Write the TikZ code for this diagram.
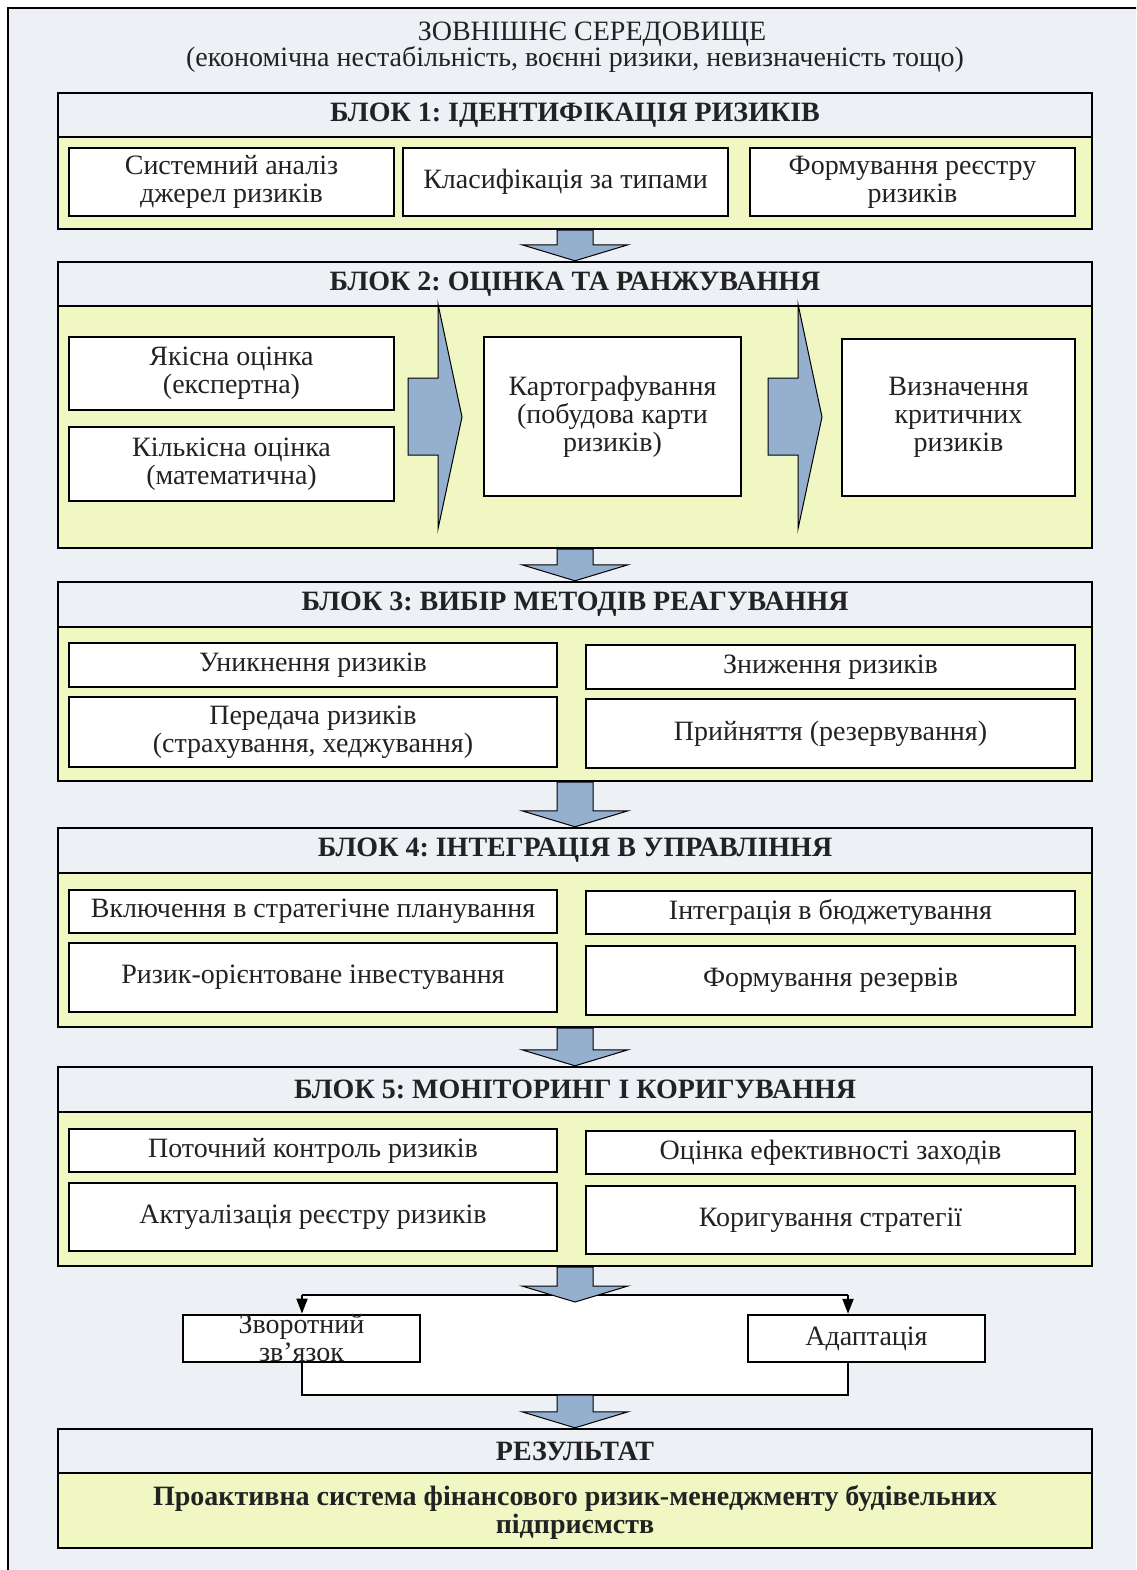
\documentclass[tikz,border=0pt]{standalone}
\usepackage{fontspec}
\setmainfont{Liberation Serif}
\usetikzlibrary{calc,arrows.meta}
\definecolor{bgc}{HTML}{EDF0F5}
\definecolor{yel}{HTML}{F0F7C3}
\definecolor{blu}{HTML}{95AFCF}
\definecolor{ink}{HTML}{222222}
\frenchspacing
\newcommand\bx[7][box]{\node[#1, minimum width={#5-#3}, minimum height={#6-#4}] (#2) at ({(#3+#5)/2},{(#4+#6)/2}) {#7};}
\newcommand\blk[5]{%
  \node[bodybox, minimum width=1034, minimum height={#4-#3}] (b#1) at (575,{(#3+#4)/2}) {};
  \node[hdr, minimum width=1034, minimum height={#3-#2}] (h#1) at (575,{(#2+#3)/2}) {#5};}
\newcommand\varr[2]{\draw[barrow] ($(#1)+(-18,0)$) -- ($(#2)+(-18,-16)$) -- ($(#2)+(-53,-16)$) -- (#2) -- ($(#2)+(53,-16)$) -- ($(#2)+(18,-16)$) -- ($(#1)+(18,0)$) -- cycle;}
\begin{document}
\begin{tikzpicture}[x=1pt,y=-1pt,
  font=\fontsize{28}{28}\selectfont, text=ink,
  box/.style={draw=black, line width=2.4pt, fill=white, align=center, inner sep=0pt},
  hdr/.style={draw=black, line width=2.4pt, fill=bgc, align=center, inner sep=0pt, font=\fontsize{28}{28}\selectfont\bfseries},
  bodybox/.style={draw=black, line width=2.4pt, fill=yel, inner sep=0pt},
  barrow/.style={draw=black, line width=1pt, fill=blu, line join=miter},
  conn/.style={draw=black, line width=2pt},
  tip/.style={-{Triangle[length=15pt,width=11pt]}}]
\useasboundingbox (0,0) rectangle (1136,1570);
\clip (0,0) rectangle (1136,1570);
\fill[white] (0,0) rectangle (1136,1570);
\draw[line width=2.5pt, fill=bgc] (8,8) rectangle (1170,1600);

\node[anchor=base] (t1) at (592,41) {ЗОВНІШНЄ СЕРЕДОВИЩЕ};
\node[anchor=base] (t2) at (575,67) {(економічна нестабільність, воєнні ризики, невизначеність тощо)};

% blocks
\blk{1}{93}{137}{229}{БЛОК 1: ІДЕНТИФІКАЦІЯ РИЗИКІВ}
\blk{2}{262}{306}{548}{БЛОК 2: ОЦІНКА ТА РАНЖУВАННЯ}
\blk{3}{582}{627}{781}{БЛОК 3: ВИБІР МЕТОДІВ РЕАГУВАННЯ}
\blk{4}{828}{873}{1027}{БЛОК 4: ІНТЕГРАЦІЯ В УПРАВЛІННЯ}
\blk{5}{1067}{1112}{1266}{БЛОК 5: МОНІТОРИНГ І КОРИГУВАННЯ}
\blk{r}{1429}{1473}{1548}{РЕЗУЛЬТАТ}
\node[font=\fontsize{28}{28}\selectfont\bfseries, align=center] (res) at (575,1512) {Проактивна система фінансового ризик-менеджменту будівельних\\підприємств};

% block 1
\bx{s1}{69}{148}{394}{216}{Системний аналіз\\джерел ризиків}
\bx{s2}{403}{148}{728}{216}{Класифікація за типами}
\bx{s3}{750}{148}{1075}{216}{Формування реєстру\\ризиків}
% block 2
\bx{q1}{69}{337}{394}{410}{Якісна оцінка\\(експертна)}
\bx{q2}{69}{427}{394}{501}{Кількісна оцінка\\(математична)}
\bx{q3}{484}{337}{741}{496}{Картографування\\(побудова карти\\ризиків)}
\bx{q4}{842}{339}{1075}{496}{Визначення\\критичних\\ризиків}
\draw[barrow] (408,378) -- (438,378) -- (438,304) -- (462,417) -- (438,529) -- (438,455) -- (408,455) -- cycle;
\draw[barrow] (768,378) -- (798,378) -- (798,304) -- (822,417) -- (798,529) -- (798,455) -- (768,455) -- cycle;
% block 3
\bx{r1}{69}{643}{557}{687}{Уникнення ризиків}
\bx{r2}{586}{645}{1075}{689}{Зниження ризиків}
\bx{r3}{69}{697}{557}{767}{Передача ризиків\\(страхування, хеджування)}
\bx{r4}{586}{699}{1075}{768}{Прийняття (резервування)}
% block 4
\bx{i1}{69}{890}{557}{933}{Включення в стратегічне планування}
\bx{i2}{586}{891}{1075}{934}{Інтеграція в бюджетування}
\bx{i3}{69}{943}{557}{1012}{Ризик-орієнтоване інвестування}
\bx{i4}{586}{946}{1075}{1015}{Формування резервів}
% block 5
\bx{m1}{69}{1129}{557}{1172}{Поточний контроль ризиків}
\bx{m2}{586}{1131}{1075}{1174}{Оцінка ефективності заходів}
\bx{m3}{69}{1183}{557}{1251}{Актуалізація реєстру ризиків}
\bx{m4}{586}{1186}{1075}{1254}{Коригування стратегії}

% block arrows
\varr{b1.south}{h2.north}
\varr{b2.south}{h3.north}
\varr{b3.south}{h4.north}
\varr{b4.south}{h5.north}

% feedback
\coordinate (fbl) at (302,1295);
\coordinate (fbr) at (848,1295);
\coordinate (fbbl) at (302,1395);
\coordinate (fbbr) at (848,1395);
\coordinate (fbin) at (575,1302);
\coordinate (fbout) at (575,1395);
\fill[white] (fbl) rectangle (fbbr);
\bx{fb}{183}{1315}{420}{1362}{Зворотний\\зв’язок}
\bx{ad}{748}{1315}{985}{1362}{Адаптація}
\draw[conn] (fbl) -- (fbr);
\draw[conn, tip] (fbl) -- (fbl |- fb.north);
\draw[conn, tip] (fbr) -- (fbr |- ad.north);
\draw[conn] (fbl |- fb.south) -- (fbbl) -- (fbbr) -- (fbr |- ad.south);
\varr{b5.south}{fbin}
\varr{fbout}{hr.north}
\end{tikzpicture}
\end{document}
